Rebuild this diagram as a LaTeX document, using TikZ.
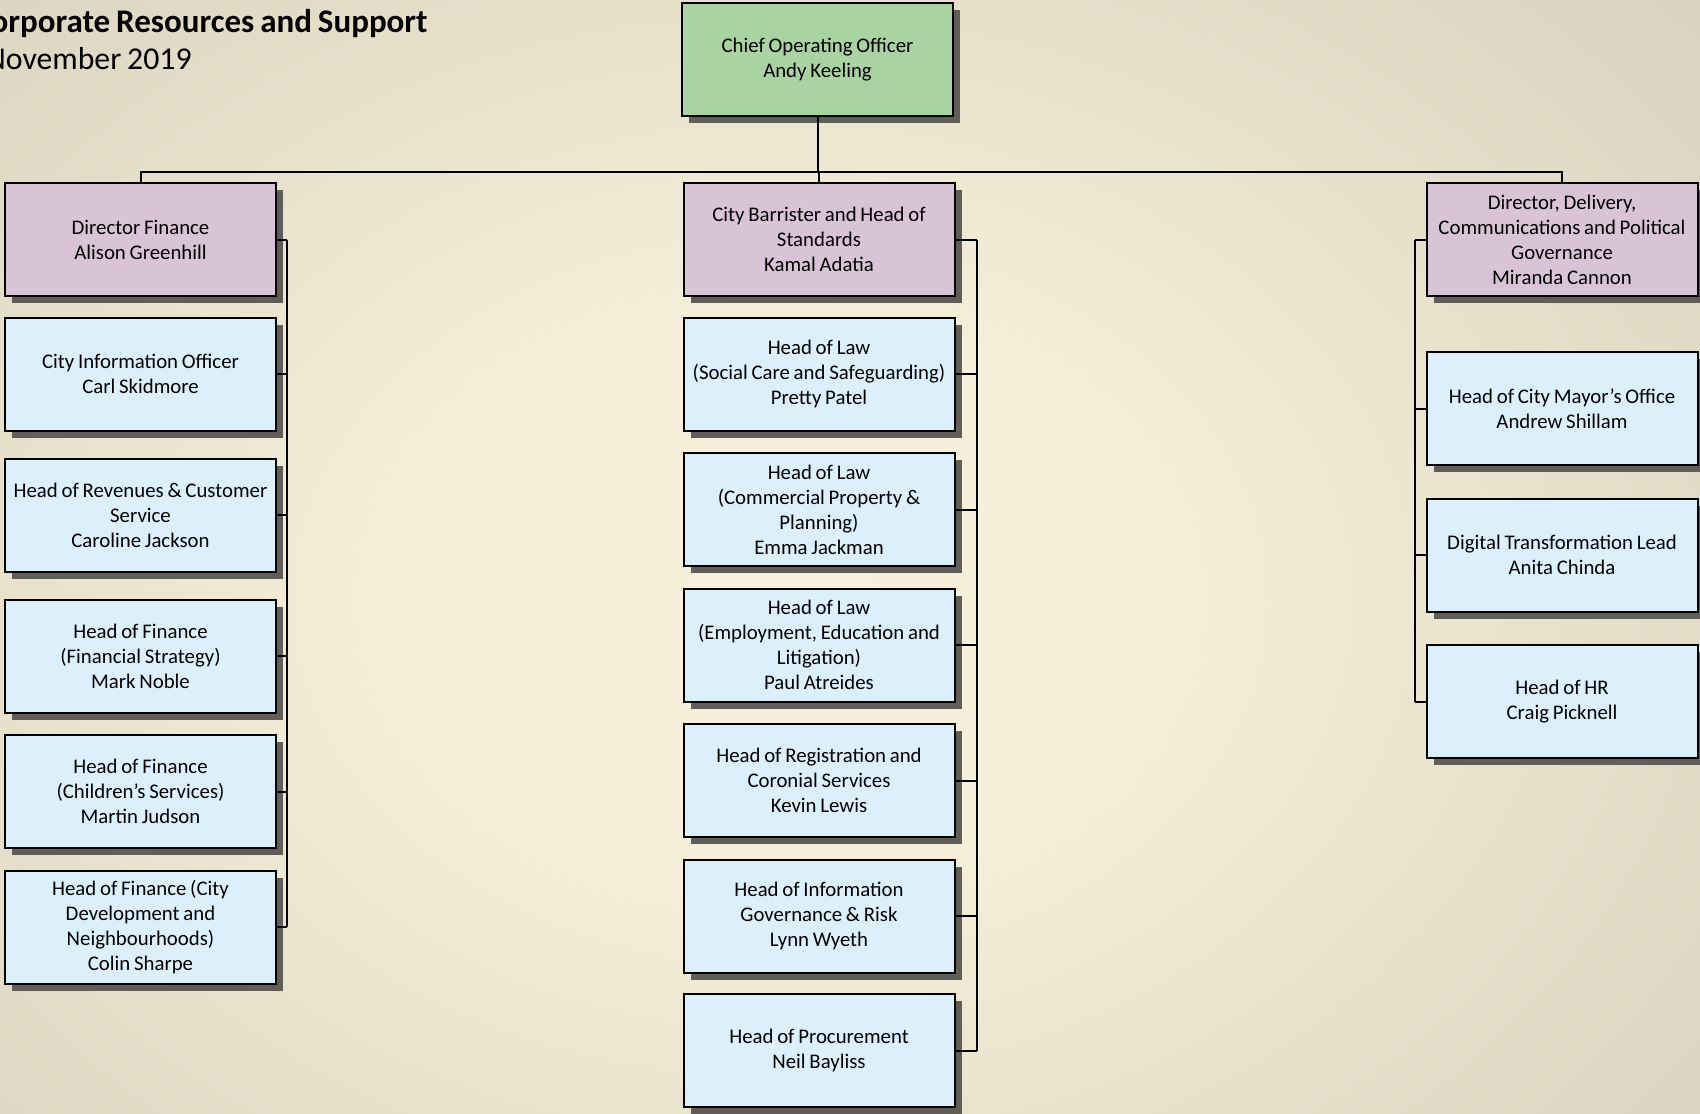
\documentclass[tikz,border=0pt]{standalone}
\usepackage{fontspec}
\setmainfont{Carlito}[WordSpace=0.8]
\usetikzlibrary{shadows}
\definecolor{chiefgreen}{RGB}{169,211,160}
\definecolor{headmauve}{RGB}{216,196,214}
\definecolor{staffblue}{RGB}{220,240,252}
\definecolor{shadowgrey}{RGB}{96,94,86}
\definecolor{bgA}{RGB}{247,240,218}
\definecolor{bgB}{RGB}{245,238,216}
\definecolor{bgC}{RGB}{217,211,191}
\definecolor{bgD}{RGB}{179,173,155}
\definecolor{bgE}{RGB}{154,148,130}
\pgfdeclareradialshading{pagebg}{\pgfpoint{0bp}{0bp}}{color(0bp)=(bgA); color(8bp)=(bgB); color(25bp)=(bgC); color(39bp)=(bgD); color(48bp)=(bgE); color(75bp)=(bgE)}

\tikzset{
  post/.style={draw=black, line width=1pt, minimum width=135.5pt, minimum height=56.5pt,
    inner sep=0pt, align=center, font=\fontsize{10.4}{12.5}\selectfont,
    drop shadow={shadow xshift=3.5pt, shadow yshift=-3.5pt, fill=shadowgrey, opacity=1}},
  chief/.style={post, fill=chiefgreen},
  head/.style={post, fill=headmauve},
  staff/.style={post, fill=staffblue},
  link/.style={draw=black, line width=1pt},
}

\begin{document}
\begin{tikzpicture}[x=0.5pt, y=-0.5pt]
\useasboundingbox (0,0) rectangle (1700,1113);
\clip (0,0) rectangle (1700,1113);
\shade[shading=pagebg] (-420,-300) rectangle (1980,1500);

\node[anchor=base east, inner sep=0, font=\fontsize{16.5}{19}\selectfont\bfseries] (title) at (428,33) {Corporate Resources and Support};
\node[anchor=base east, inner sep=0, font=\fontsize{15.9}{19}\selectfont] (date) at (192,70) {November 2019};

\node[chief] (coo) at (817.5,59.5) {Chief Operating Officer\\Andy Keeling};

% finance
\node[head] (fin) at (140.5,239.5) {Director Finance\\Alison Greenhill};
\node[staff] (cio) at (140.5,374) {City Information Officer\\Carl Skidmore};
\node[staff] (rev) at (140.5,515) {Head of Revenues \& Customer\\Service\\Caroline Jackson};
\node[staff] (fstrat) at (140.5,656) {Head of Finance\\(Financial Strategy)\\Mark Noble};
\node[staff] (fchild) at (140.5,791.5) {Head of Finance\\(Children’s Services)\\Martin Judson};
\node[staff] (fcity) at (140.5,927) {Head of Finance (City\\Development and\\Neighbourhoods)\\Colin Sharpe};

% legal
\node[head] (barrister) at (819,239.5) {City Barrister and Head of\\Standards\\Kamal Adatia};
\node[staff] (lawsocial) at (819,374) {Head of Law\\(Social Care and Safeguarding)\\Pretty Patel};
\node[staff] (lawprop) at (819,509.5) {Head of Law\\(Commercial Property \&\\Planning)\\Emma Jackman};
\node[staff] (lawemp) at (819,645) {Head of Law\\(Employment, Education and\\Litigation)\\Paul Atreides};
\node[staff] (regist) at (819,780.5) {Head of Registration and\\Coronial Services\\Kevin Lewis};
\node[staff] (infogov) at (819,916) {Head of Information\\Governance \& Risk\\Lynn Wyeth};
\node[staff] (procure) at (819,1050.5) {Head of Procurement\\Neil Bayliss};

% delivery
\node[head] (deliv) at (1562,239.5) {Director, Delivery,\\Communications and Political\\Governance\\Miranda Cannon};
\node[staff] (mayor) at (1562,408.5) {Head of City Mayor’s Office\\Andrew Shillam};
\node[staff] (digital) at (1562,555) {Digital Transformation Lead\\Anita Chinda};
\node[staff] (hr) at (1562,701.5) {Head of HR\\Craig Picknell};

\coordinate (rail) at (0,172);
\coordinate (lbus) at (287,0);
\coordinate (mbus) at (977,0);
\coordinate (rbus) at (1415,0);

\draw[link] (coo.south) -- (coo.south |- rail);
\draw[link] (fin.north) -- (fin.north |- rail) -- (deliv.north |- rail) -- (deliv.north);
\draw[link] (barrister.north) -- (barrister.north |- rail);

\foreach \n in {fin,cio,rev,fstrat,fchild,fcity}
  \draw[link] (\n.east) -- (\n.east -| lbus);
\draw[link] (fin.east -| lbus) -- (fcity.east -| lbus);

\foreach \n in {barrister,lawsocial,lawprop,lawemp,regist,infogov,procure}
  \draw[link] (\n.east) -- (\n.east -| mbus);
\draw[link] (barrister.east -| mbus) -- (procure.east -| mbus);

\foreach \n in {deliv,mayor,digital,hr}
  \draw[link] (\n.west) -- (\n.west -| rbus);
\draw[link] (deliv.west -| rbus) -- (hr.west -| rbus);
\end{tikzpicture}
\end{document}
